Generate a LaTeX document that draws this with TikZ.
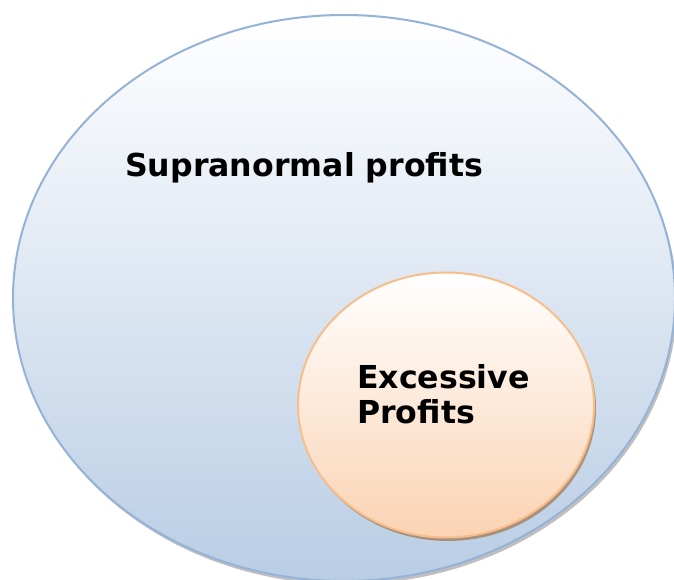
\documentclass[tikz,border=0pt]{standalone}
\usepackage{fontspec}
\setmainfont{DejaVu Sans}
\usetikzlibrary{shapes.geometric,shadows}

\definecolor{setblue}{HTML}{B9CDE5}
\definecolor{lineblue}{HTML}{95B3D7}
\definecolor{setpeach}{HTML}{FAD3B3}
\definecolor{linepeach}{HTML}{F7BE8C}

\tikzset{
    bigset/.style={ellipse, inner sep=0pt, draw=lineblue, line width=2pt,
        top color=white, bottom color=setblue,
        drop shadow={shadow xshift=2pt, shadow yshift=-3.5pt, fill=black!50, opacity=0.5}},
    smallset/.style={ellipse, inner sep=0pt, draw=linepeach, line width=2pt,
        top color=white, bottom color=setpeach,
        drop shadow={shadow xshift=2pt, shadow yshift=-3.5pt, fill=brown!80!black, opacity=0.6}},
    setlabel/.style={font=\bfseries\fontsize{31.6}{35}\selectfont, inner sep=0pt, align=left}
}

\begin{document}
\begin{tikzpicture}[x=1pt, y=-1pt]
    \useasboundingbox (0,0) rectangle (674,580);

    % outer set and the one inside it
    \node[bigset, minimum width=662pt, minimum height=566pt] (supra) at (344,298) {};
    \node[smallset, minimum width=296pt, minimum height=265pt] (excess) at (446,405) {};

    \node[setlabel, anchor=base west] (supralabel) at (125,177) {Supranormal profits};
    % base of a two-line node sits on its last line
    \node[setlabel, anchor=base west] (excesslabel) at (357,423) {Excessive\\Profits};
\end{tikzpicture}
\end{document}
